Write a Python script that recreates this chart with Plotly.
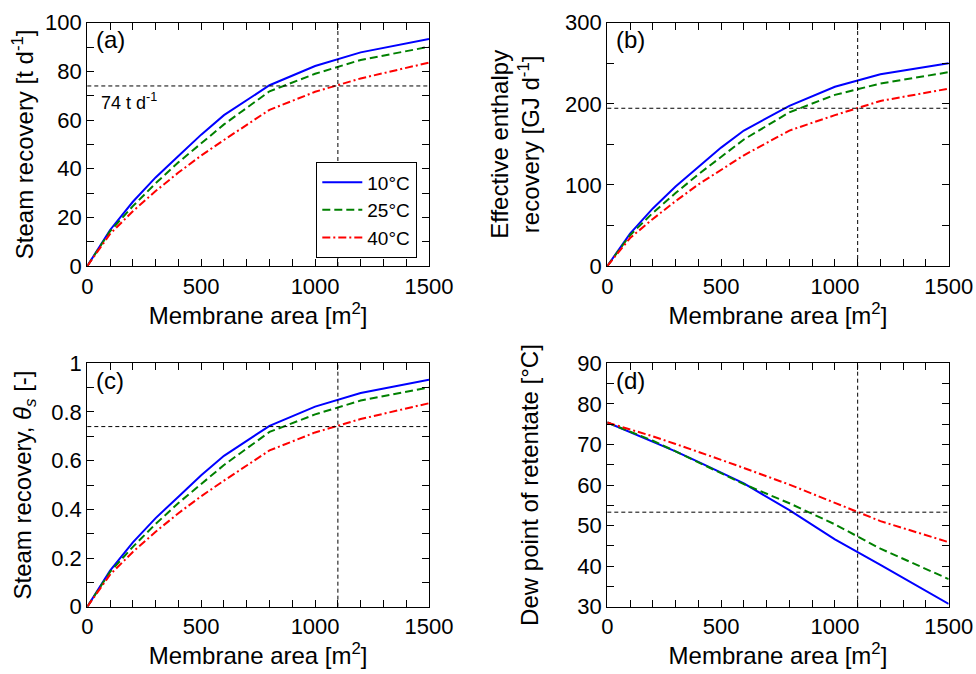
import plotly.graph_objects as go

# membrane area [m2]
area = [0, 100, 200, 300, 400, 500, 600, 800, 1000, 1200, 1500]
temps = ["10°C", "25°C", "40°C"]

# (a) steam recovery [t/d]
steam_10 = [0, 14.8, 26.4, 36.4, 45.2, 54.0, 62.0, 74.3, 82.2, 87.8, 93.3]
steam_25 = [0, 14.3, 24.6, 34.0, 42.6, 50.6, 58.2, 71.8, 79.0, 84.7, 90.1]
steam_40 = [0, 13.2, 22.5, 30.8, 38.4, 45.4, 51.8, 64.2, 71.6, 77.1, 83.6]

# (b) effective enthalpy recovery [GJ/d]
enth_10 = [0, 40, 71, 98, 122, 146, 167, 197.5, 221, 236.5, 250]
enth_25 = [0, 38, 65.5, 90, 113, 134, 156, 189.5, 211, 225, 239]
enth_40 = [0, 34.5, 58, 80, 100.5, 119, 136.5, 167, 186, 203.5, 218.7]

# (c) steam recovery fraction
theta_10 = [0, 0.148, 0.264, 0.364, 0.452, 0.540, 0.620, 0.743, 0.822, 0.878, 0.933]
theta_25 = [0, 0.143, 0.246, 0.340, 0.426, 0.506, 0.582, 0.718, 0.790, 0.847, 0.901]
theta_40 = [0, 0.132, 0.225, 0.308, 0.384, 0.454, 0.518, 0.642, 0.716, 0.771, 0.836]

# (d) dew point of retentate [°C]
dew_10 = [75.4, 73.1, 70.8, 68.3, 65.7, 63.1, 60.4, 53.8, 46.6, 40.3, 30.7]
dew_25 = [75.4, 73.2, 70.9, 68.3, 65.6, 62.9, 60.2, 55.5, 50.3, 44.3, 36.8]
dew_40 = [75.4, 73.7, 72.0, 70.1, 68.2, 66.2, 64.2, 60.1, 55.6, 51.1, 45.9]

design_area = 1100
ref_steam = 74
ref_enth = 194.5
ref_theta = 0.74
ref_dew = 53.3

colors = ["#0000ff", "#008000", "#ff0000"]
dashes = ["solid", "8px,4px", "8px,3px,2px,3px"]
FONT = "Liberation Sans, Arial, sans-serif"

panels = [
    ([steam_10, steam_25, steam_40], "", ""),
    ([enth_10, enth_25, enth_40], "2", "2"),
    ([theta_10, theta_25, theta_40], "3", "3"),
    ([dew_10, dew_25, dew_40], "4", "4"),
]

fig = go.Figure()
for i, (series, xs, ys) in enumerate(panels):
    for k, vals in enumerate(series):
        fig.add_trace(go.Scatter(
            x=area, y=vals, mode="lines", name=temps[k],
            line=dict(color=colors[k], width=2, dash=dashes[k]),
            showlegend=(i == 0), xaxis="x" + xs, yaxis="y" + ys))

W, H = 976, 674


def px_x(a, b):
    return [a / W, b / W]


def px_y(top, bottom):
    return [(H - bottom) / H, (H - top) / H]


xdom_l = px_x(87.3, 429)
xdom_r = px_x(607.3, 948.7)
ydom_t = px_y(22.7, 266)
ydom_b = px_y(363.3, 606.7)


def xax(dom, anchor):
    return dict(domain=dom, anchor=anchor, range=[0, 1500], dtick=500,
                ticks="inside", ticklen=7, tickwidth=1, tickcolor="black",
                minor=dict(dtick=100, ticks="inside", ticklen=7, tickwidth=1, tickcolor="black"),
                showline=True, linecolor="black", linewidth=1.3, mirror="ticks",
                showgrid=False, zeroline=False,
                tickfont=dict(size=22, color="black"),
                title=dict(text="Membrane area [m<sup>2</sup>]", font=dict(size=24, color="black"), standoff=8))


def yax(dom, anchor, rng, dt, mdt, title, standoff):
    return dict(domain=dom, anchor=anchor, range=rng, dtick=dt,
                ticks="inside", ticklen=7, tickwidth=1, tickcolor="black",
                minor=dict(dtick=mdt, ticks="inside", ticklen=7, tickwidth=1, tickcolor="black"),
                showline=True, linecolor="black", linewidth=1.3, mirror="ticks",
                showgrid=False, zeroline=False,
                tickfont=dict(size=22, color="black"),
                title=dict(text=title, font=dict(size=24, color="black"), standoff=standoff))


fig.update_layout(
    width=W, height=H,
    template="none",
    paper_bgcolor="white", plot_bgcolor="white",
    margin=dict(l=0, r=0, t=0, b=0),
    font=dict(family=FONT, color="black"),
    xaxis=xax(xdom_l, "y"),
    yaxis=yax(ydom_t, "x", [0, 100], 20, 10, "Steam recovery [t d<sup>-1</sup>]", 4),
    xaxis2=xax(xdom_r, "y2"),
    yaxis2=yax(ydom_t, "x2", [0, 300], 100, 50, "Effective enthalpy<br>recovery [GJ d<sup>-1</sup>]", 18),
    xaxis3=xax(xdom_l, "y3"),
    yaxis3=yax(ydom_b, "x3", [0, 1], 0.2, 0.1, "Steam recovery, <i>θ<sub>s</sub></i> [-]", 12),
    xaxis4=xax(xdom_r, "y4"),
    yaxis4=yax(ydom_b, "x4", [30, 90], 10, 5, "Dew point of retentate [°C]", 31),
    legend=dict(x=417 / W, y=(H - 258) / H, xanchor="right", yanchor="bottom",
                bgcolor="white", bordercolor="black", borderwidth=1.3, itemwidth=40,
                font=dict(size=19, color="black")),
)

refs = [ref_steam, ref_enth, ref_theta, ref_dew]
for (series, xs, ys), ref in zip(panels, refs):
    fig.add_shape(type="line", xref="x" + xs, yref="y" + ys + " domain",
                  x0=design_area, x1=design_area, y0=0, y1=1,
                  line=dict(color="black", width=1, dash="4px,3px"))
    fig.add_shape(type="line", xref="x" + xs + " domain", yref="y" + ys,
                  x0=0, x1=1, y0=ref, y1=ref,
                  line=dict(color="black", width=1, dash="4px,3px"))

for (series, xs, ys), lab in zip(panels, ["(a)", "(b)", "(c)", "(d)"]):
    fig.add_annotation(text=lab, xref="x" + xs + " domain", yref="y" + ys + " domain",
                       x=0.02, y=0.995, xanchor="left", yanchor="top", showarrow=False,
                       font=dict(size=24, color="black"))

fig.add_annotation(text="74 t d<sup>-1</sup>", xref="x", yref="y", x=50, y=ref_steam,
                   xanchor="left", yanchor="top", showarrow=False, yshift=-2,
                   font=dict(size=18, color="black"))

# drop the default 8px page margin so the figure fills the window
fig.write_html("out.html", config={"displayModeBar": False},
               post_script="document.body.style.margin='0';")
